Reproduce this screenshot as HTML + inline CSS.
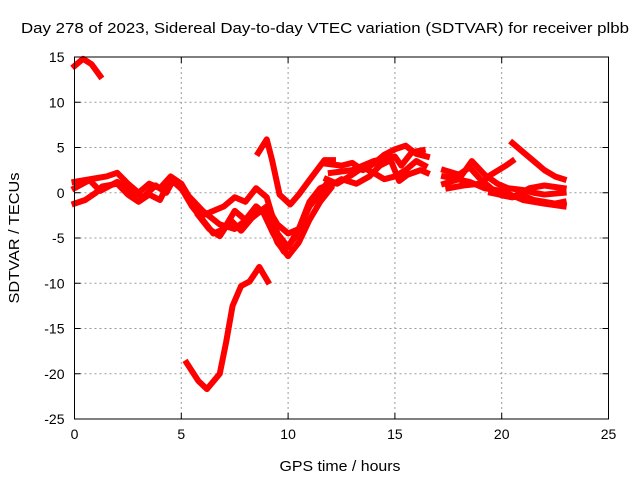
<!DOCTYPE html>
<html><head><meta charset="utf-8"><style>
body{margin:0;background:#fff}
svg{display:block;font-family:"Liberation Sans",Arial,sans-serif}
</style></head><body>
<svg id="chart" width="640" height="480">
<text x="325" y="33" text-anchor="middle" font-size="15" textLength="608" lengthAdjust="spacingAndGlyphs">Day 278 of 2023, Sidereal Day-to-day VTEC variation (SDTVAR) for receiver plbb</text>
<text x="340" y="471" text-anchor="middle" font-size="15" textLength="121" lengthAdjust="spacingAndGlyphs">GPS time / hours</text>
<text transform="translate(19,238) rotate(-90)" text-anchor="middle" font-size="15" textLength="131" lengthAdjust="spacingAndGlyphs">SDTVAR / TECUs</text>
<g id="grid"></g><g id="ticks"></g><g id="series"></g>
<rect x="74.5" y="57" width="534" height="362" fill="none" stroke="#000" stroke-width="1"/>
</svg>
<script>
const xTicks=[0,5,10,15,20,25];
const yTicks=[15,10,5,0,-5,-10,-15,-20,-25];
const traceA=[[0,14.0],[0.4,14.8],[0.8,14.2],[1.2,12.9]];
const traceB=[[5.25,-18.8],[5.8,-20.8],[6.2,-21.7],[6.8,-20.0],[7.1,-16.5],[7.4,-12.5],[7.8,-10.3],[8.2,-9.8],[8.65,-8.2],[9.05,-9.8]];
const traceC=[[8.6,4.4],[9.0,5.9],[9.25,3.6],[9.6,-0.2],[10.1,-1.3],[10.5,-0.2],[11,1.4],[11.7,3.6],[12.1,3.6]];
const traceD1=[[0,1.2],[1,1.6],[1.5,1.8],[2,2.2],[2.5,1.0],[3,0],[3.5,1.0],[4,0.5],[4.5,1.8],[5,1.0],[5.5,-1.0],[6,-2.5],[6.5,-2.0],[7,-1.5],[7.5,-0.5],[8,-1.0],[8.5,0.5],[9,-0.5],[9.5,-4.5],[10,-6.0],[10.5,-4.0],[11,-1.0],[11.5,0.5],[12,1.0]];
const traceD2=[[0,-1.2],[0.5,-0.8],[1,0],[1.3,0.7],[2,1.0],[2.5,-0.2],[3,-1.0],[3.5,-0.2],[4,-0.8],[4.5,1.5],[5,0.5],[5.5,-1.5],[6,-3.0],[6.5,-4.5],[7,-4.0],[7.5,-2.0],[8,-3.0],[8.5,-1.5],[9,-2.5],[9.5,-5.5],[10,-7.0],[10.5,-5.5],[11,-3],[11.5,-1],[12,0.5]];
const traceD3=[[0,0.5],[0.7,1.4],[1.2,0.2],[2,1.2],[2.6,0.3],[3.2,-0.5],[3.8,0.8],[4.3,0],[4.6,1.3],[5.2,0],[6,-2.0],[6.8,-3.5],[7.5,-4.0],[8.3,-2.5],[8.8,-2.0],[9.3,-4.5],[9.8,-6.5],[10.3,-5.0],[11,-1.5],[11.8,0.8]];
const traceD4=[[5.8,-2.5],[6.3,-4.0],[6.8,-4.8],[7.3,-3],[7.8,-4.2],[8.3,-2.8],[9,-1.5],[9.5,-3.5],[10,-4.5],[10.5,-4],[11,-1.5],[11.8,1]];
const traceE1=[[11.8,3.2],[12.5,3.0],[13,3.3],[13.5,2.5],[14,3.2],[14.5,4.2],[15,4.8],[15.5,5.2],[16,4.3],[16.5,4.0]];
const traceE2=[[11.8,1.5],[12.3,1.0],[13,2.0],[13.5,2.8],[14,2.2],[14.5,1.5],[15,1.8],[15.5,2.5],[16,3.5],[16.4,3.0]];
const traceE3=[[12.0,0.8],[12.5,1.5],[13.2,1.0],[13.8,1.8],[14.3,3.0],[14.8,3.6],[15.2,1.3],[15.6,2.0],[16.2,2.5],[16.5,2.2]];
const traceE4=[[12,2.2],[13,2.5],[14,3.5],[15,4.0],[15.3,3.0],[15.8,4.5],[16.3,4.7]];
const traceF1=[[17.3,2.5],[18,2.0],[18.5,2.8],[19,1.5],[19.5,0.5],[20,-0.3],[20.5,-0.5],[21,-0.3],[21.5,-0.8],[22,-1.0],[22.5,-1.2],[22.9,-1.0]];
const traceF2=[[17.3,1.0],[18,1.5],[18.6,3.5],[19.2,2.0],[19.8,1.0],[20.3,0.5],[21,0.3],[21.5,0],[22,-0.2],[22.9,0]];
const traceF3=[[17.5,0.5],[18.2,0.8],[19,1.0],[19.5,2.0],[20.2,3.0],[20.5,3.5]];
const traceF4=[[20.5,5.5],[21,4.5],[21.5,3.5],[22,2.5],[22.5,1.8],[22.9,1.5]];
const traceF5=[[19.5,0],[20.5,-0.5],[21.3,0.5],[22,0.8],[22.9,0.5]];
const traceF6=[[17.3,1.8],[18.5,1.2],[19.2,0.5],[20,0.2],[21,-0.8],[22,-1.2],[22.9,-1.5]];
const traces=[traceA,traceB,traceC,traceD1,traceD2,traceD3,traceD4,traceE1,traceE2,traceE3,traceE4,traceF1,traceF2,traceF3,traceF4,traceF5,traceF6];

const X0=74.5,X1=608.5,Y0=57,Y1=419;
const xs=h=>X0+(h-0)/(25-0)*(X1-X0);
const ys=v=>Y0+(15-v)/(15-(-25))*(Y1-Y0);
const NS='http://www.w3.org/2000/svg';
const grid=document.getElementById('grid'),ticks=document.getElementById('ticks'),ser=document.getElementById('series');
function mk(tag,attrs,parent){const e=document.createElementNS(NS,tag);for(const k in attrs)e.setAttribute(k,attrs[k]);parent.appendChild(e);return e;}
xTicks.forEach(t=>{
  const x=xs(t);
  if(t>0&&t<25){const g=mk('line',{x1:x,x2:x,y1:Y0,y2:Y1,stroke:'#999','stroke-dasharray':'2,3'},grid);
  
  }
  mk('line',{x1:x,x2:x,y1:Y1,y2:Y1-6,stroke:'#000'},ticks);
  mk('line',{x1:x,x2:x,y1:Y0,y2:Y0+6,stroke:'#000'},ticks);
  const l=mk('text',{x:x,y:Y1+20,'text-anchor':'middle','font-size':'14'},ticks);l.textContent=t;
  
  
});
yTicks.forEach(t=>{
  const y=ys(t);
  if(t<15&&t>-25){const g=mk('line',{x1:X0,x2:X1,y1:y,y2:y,stroke:'#999','stroke-dasharray':'2,3'},grid);
  
  }
  mk('line',{x1:X0,x2:X0+6,y1:y,y2:y,stroke:'#000'},ticks);
  mk('line',{x1:X1,x2:X1-6,y1:y,y2:y,stroke:'#000'},ticks);
  const l=mk('text',{x:X0-10,y:y+5,'text-anchor':'end','font-size':'14'},ticks);l.textContent=t;
  
  
});
traces.forEach(tr=>{
  const p=mk('polyline',{points:tr.map(d=>xs(d[0])+','+ys(d[1])).join(' '),fill:'none',stroke:'#f00','stroke-width':'6','stroke-linejoin':'round','stroke-linecap':'square'},ser);
  
  
});
</script>
</body></html>
